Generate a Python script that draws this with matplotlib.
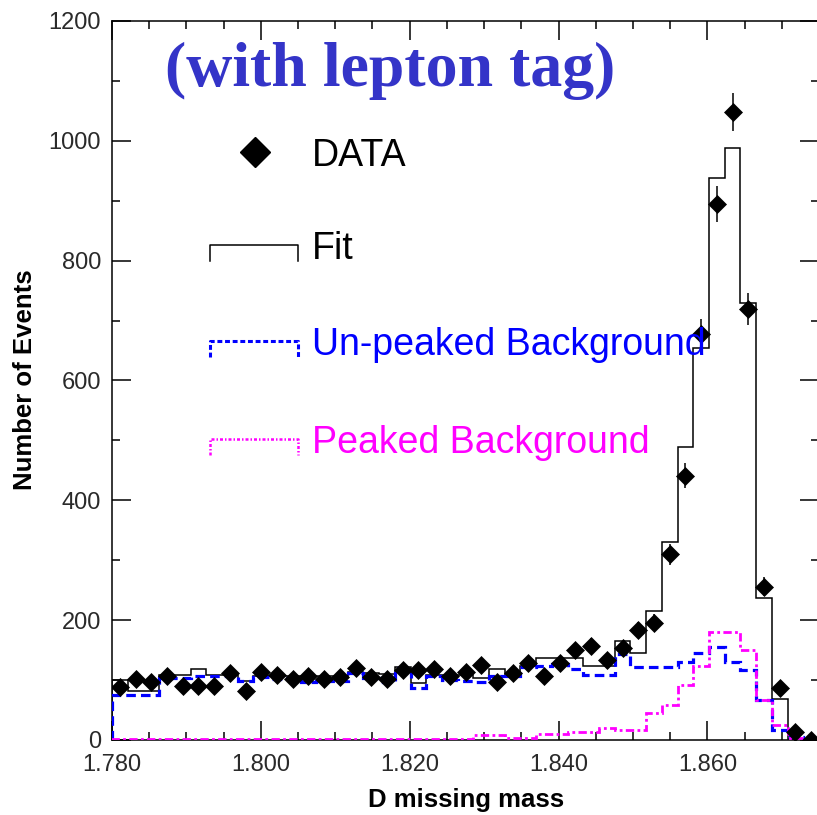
import numpy as np
import matplotlib
matplotlib.use("Agg")
import matplotlib.pyplot as plt
from matplotlib.ticker import MultipleLocator, FormatStrFormatter

# Histogram binning of the D missing-mass spectrum
x_min, x_max = 1.780, 1.875
n_bins = 45
edges = np.linspace(x_min, x_max, n_bins + 1)
centers = 0.5 * (edges[:-1] + edges[1:])

# Observed events per bin
data_counts = [88, 102, 97, 107, 90, 90, 90, 112, 81, 114,
               109, 102, 107, 102, 105, 120, 105, 102, 116, 117,
               118, 106, 113, 125, 96, 111, 128, 107, 129, 150,
               157, 134, 153, 183, 196, 310, 441, 677, 894, 1048,
               720, 256, 86, 14, 0]

# Total fit (signal + backgrounds)
fit_counts = [100, 81, 81, 109, 109, 118, 109, 109, 99, 107,
              107, 107, 107, 107, 107, 114, 112, 110, 122, 95,
              108, 108, 108, 103, 118, 107, 124, 137, 137, 137,
              124, 124, 166, 146, 216, 330, 489, 655, 938, 988,
              729, 237, 68, 2, 0]

# Non-peaking background component
unpeaked_bkg = [75, 75, 75, 103, 103, 107, 106, 106, 99, 105,
                102, 103, 97, 99, 99, 112, 103, 97, 120, 86,
                106, 100, 99, 96, 106, 106, 122, 123, 127, 118,
                109, 109, 144, 122, 122, 122, 131, 146, 156, 131,
                117, 67, 17, 5, 0]

# Peaking background component
peaked_bkg = [2, 2, 2, 2, 2, 2, 2, 2, 2, 2,
              2, 2, 2, 2, 2, 2, 2, 2, 2, 2,
              2, 2, 2, 8, 8, 4, 4, 10, 10, 13,
              14, 20, 17, 17, 45, 58, 92, 123, 181, 181,
              150, 67, 25, 3, 0]

x_major = [1.780, 1.800, 1.820, 1.840, 1.860]
legend_labels = ["DATA", "Fit", "Un-peaked Background", "Peaked Background"]

BLUE = "#0000ff"
MAGENTA = "#ff00ff"
SANS = ["Liberation Sans", "DejaVu Sans"]

W, H = 817, 815
fig = plt.figure(figsize=(W / 100, H / 100), dpi=100)
ax = fig.add_axes([112 / W, 75 / H, 707 / W, 719 / H])


def fpos(px, py):
    """Pixel position (from top-left) to figure fraction."""
    return px / W, 1 - py / H


data = np.array(data_counts, dtype=float)

ax.stairs(fit_counts, edges, color="black", lw=1.1, zorder=2)
ax.stairs(unpeaked_bkg, edges, color=BLUE, lw=2.3, zorder=3,
          linestyle=(0, (3, 1.6)))
ax.stairs(peaked_bkg, edges, color=MAGENTA, lw=2.0, zorder=3,
          linestyle=(0, (3, 1.2, 1, 1.2)))
ax.errorbar(centers, data, yerr=np.sqrt(data), fmt="D", ms=9,
            color="black", mec="black", mew=0.5, ecolor="black",
            elinewidth=1.1, capsize=0, zorder=5)

ax.set_xlim(x_min, x_max)
ax.set_ylim(0, 1200)
ax.xaxis.set_major_locator(plt.FixedLocator(x_major))
ax.xaxis.set_minor_locator(MultipleLocator(0.005))
ax.xaxis.set_major_formatter(FormatStrFormatter("%.3f"))
ax.yaxis.set_major_locator(MultipleLocator(200))
ax.yaxis.set_minor_locator(MultipleLocator(100))

ax.tick_params(which="both", direction="in", top=True, right=True,
               width=1.1, labelsize=17, colors="black")
ax.tick_params(which="major", length=13.7)
ax.tick_params(which="minor", length=6)
ax.tick_params(axis="x", pad=10)
ax.tick_params(axis="y", pad=8)
for lbl in ax.get_xticklabels() + ax.get_yticklabels():
    lbl.set_family(SANS)
    lbl.set_color("#2a2a2a")
for sp in ax.spines.values():
    sp.set_linewidth(1.1)

# Axis titles
fig.text(*fpos(466, 800), "D missing mass", ha="center", va="center",
         fontsize=18.5, fontweight="bold", family=SANS)
fig.text(*fpos(25, 380), "Number of Events", ha="center", va="center",
         rotation=90, fontsize=18.5, fontweight="bold", family=SANS)

# Heading
fig.text(*fpos(390, 86), "(with lepton tag)", ha="center", va="baseline",
         fontsize=46, fontweight="bold", family=["Liberation Serif", "DejaVu Serif"],
         color="#3434c8")

# Legend
tf = fig.transFigure
kx0, kx1, tx = 210, 298, 312
fig.lines.append(plt.Line2D([fpos(255, 0)[0]], [fpos(0, 152)[1]], marker="D",
                            ms=15, color="black", transform=tf))
fig.text(*fpos(tx, 166), legend_labels[0], fontsize=27, family=SANS,
         va="baseline", color="black")

key_rows = [
    (245, 261, "black", 1.1, "-", legend_labels[1]),
    (341, 357, BLUE, 2.2, (0, (1.6, 0.9)), legend_labels[2]),
    (439, 455, MAGENTA, 1.8, (0, (1.2, 0.8, 0.6, 0.8)), legend_labels[3]),
]
for top, leg, col, lw, ls, label in key_rows:
    xs = [fpos(p, 0)[0] for p in (kx0, kx0, kx1, kx1)]
    ys = [fpos(0, p)[1] for p in (leg, top, top, leg)]
    fig.lines.append(plt.Line2D(xs, ys, color=col, lw=lw, linestyle=ls,
                                transform=tf))
    fig.text(*fpos(tx, top + 14), label, fontsize=27, family=SANS,
             va="baseline", color=col)

fig.savefig("out.png", dpi=100)
